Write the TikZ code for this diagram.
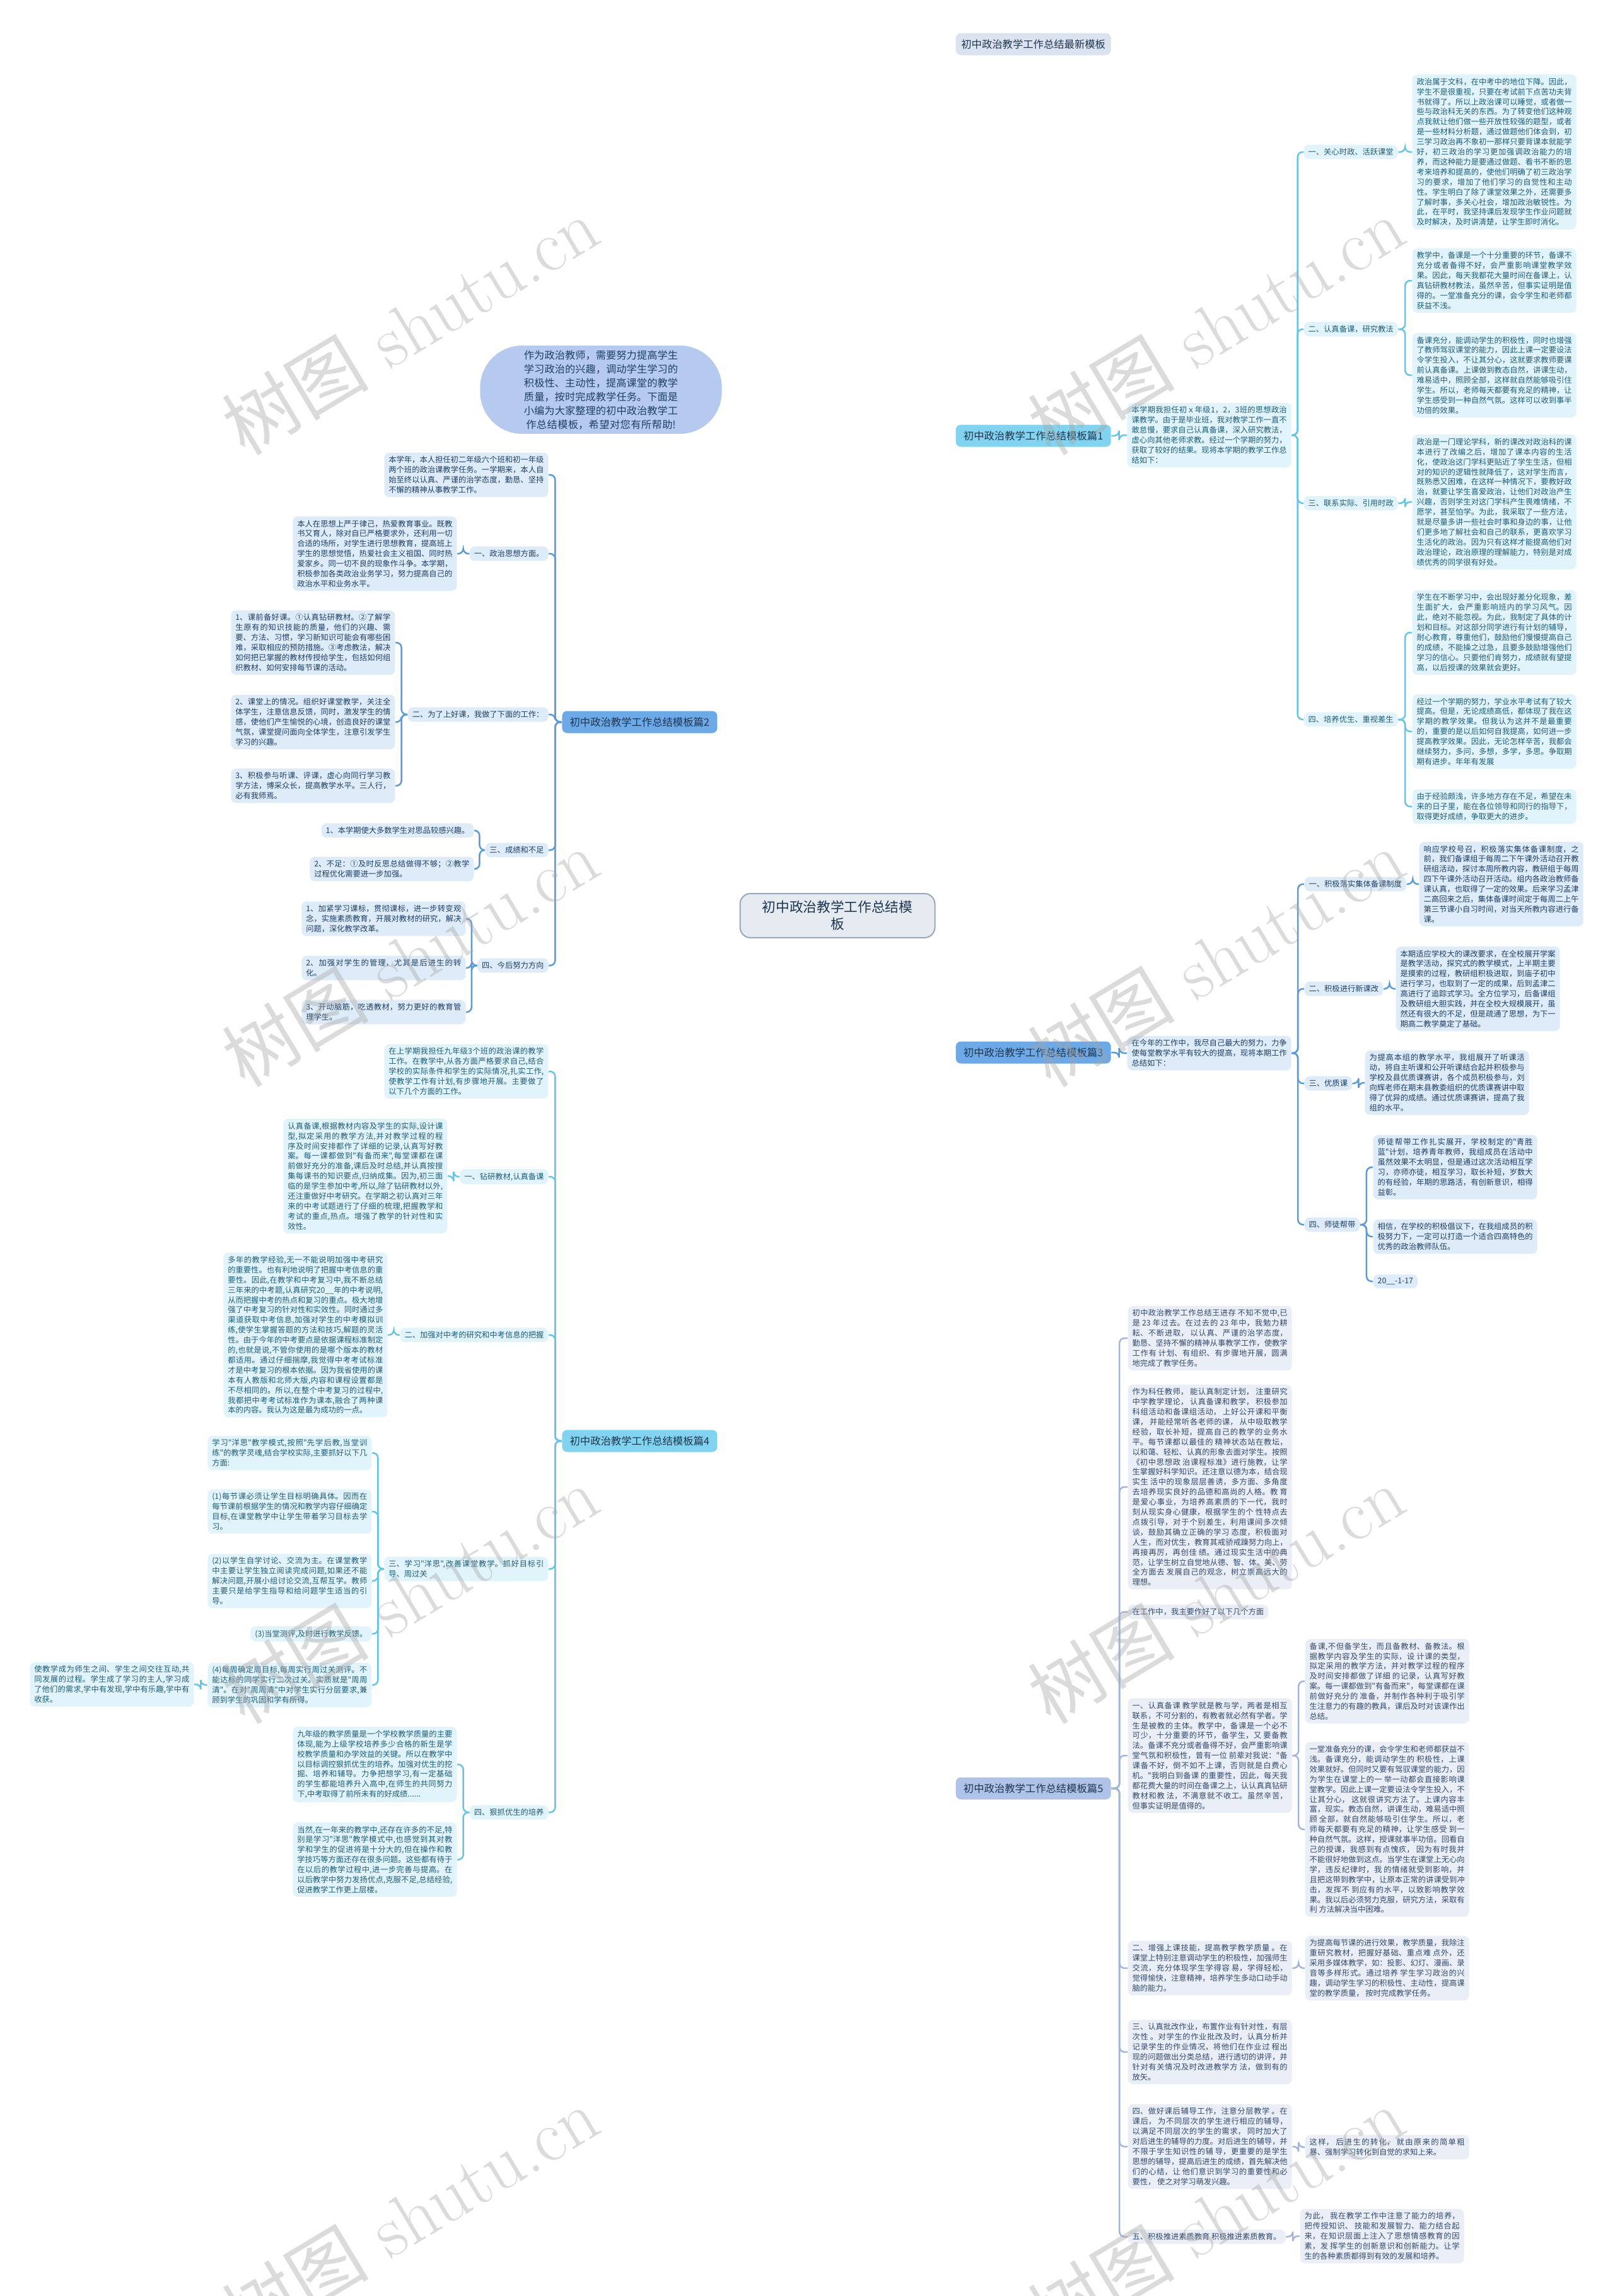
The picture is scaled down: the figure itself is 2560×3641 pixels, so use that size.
\documentclass[tikz,border=0pt]{standalone}
\usepackage{fontspec}
\newfontfamily\cjk{Noto Sans CJK SC}
\usetikzlibrary{calc}
\XeTeXlinebreaklocale "zh"
\XeTeXlinebreakskip = 0pt plus 1pt
\definecolor{tinta}{HTML}{1E3550}
\definecolor{ciano}{HTML}{82D3EF}
\definecolor{cianolinha}{HTML}{66C4E4}
\definecolor{cianoclaro}{HTML}{E1F4FB}
\definecolor{cianotexto}{HTML}{1F5C78}
\definecolor{azul}{HTML}{6CA9E6}
\definecolor{azullinha}{HTML}{5A9AD6}
\definecolor{azulclaro}{HTML}{DEEBF8}
\definecolor{azultexto}{HTML}{1E3F66}
\definecolor{lilas}{HTML}{AFC3E8}
\definecolor{lilaslinha}{HTML}{A3B6DA}
\definecolor{lilasclaro}{HTML}{E9EEF7}
\definecolor{lilastexto}{HTML}{34496B}
\definecolor{cinzaazul}{HTML}{DCE3F0}
\definecolor{cinzalinha}{HTML}{B4C2DC}
\definecolor{bolha}{HTML}{B5CAEE}
\definecolor{bolhalinha}{HTML}{A8BDE6}
\definecolor{centro}{HTML}{E6EBF1}
\definecolor{centroborda}{HTML}{9AA8BA}
\pgfdeclarelayer{fundo}
\pgfsetlayers{fundo,main}

\begin{document}
\begin{tikzpicture}[x=0.3pt, y=-0.3pt,
  caixa/.style={rounded corners=2.4pt, inner xsep=2.1pt, inner ysep=1.7pt,
    font=\cjk\fontsize{3.68}{4.77}\selectfont},
  texto/.style={caixa, text width=73.8pt, align=justify},
  fc/.style={fill=cianoclaro, text=cianotexto},
  fa/.style={fill=azulclaro, text=azultexto},
  fl/.style={fill=lilasclaro, text=lilastexto},
  ramo/.style={rounded corners=2.4pt, minimum width=73.8pt, minimum height=10.5pt,
    inner sep=1pt, text=tinta, font=\cjk\fontsize{4.9}{5.6}\selectfont},
  liga/.style={line width=0.75pt, rounded corners=2.4pt,
    to path={let \p1=(\tikztostart), \p2=(\tikztotarget) in
      -- ({(\x1+\x2)/2},\y1) |- (\tikztotarget)}},
  tronco/.style={line width=0.9pt},
  marca/.style={text=black!35, opacity=0.4, rotate=31, font=\fontsize{35}{35}\selectfont}]

\fill[white] (0,0) rectangle (2560,3641);
\useasboundingbox (0,0) rectangle (2560,3641);

% ================= centro e apresentacao =================
\node[fill=centro, draw=centroborda, line width=0.6pt, rounded corners=5pt,
  minimum width=92.7pt, minimum height=21pt, align=center,
  text=tinta, font=\cjk\fontsize{6.5}{8.2}\selectfont] (ctr) at (1328,1452)
  {初中政治教学工作总结模\\板};
\node[fill=bolha, rounded corners=20pt, minimum width=115pt, minimum height=42pt,
  inner sep=0pt, text width=74pt, align=center, text=azultexto,
  font=\cjk\fontsize{4.85}{6.6}\selectfont] (bolha) at (953,618)
  {作为政治教师，需要努力提高学生学习政治的兴趣，调动学生学习的积极性、主动性，提高课堂的教学质量，按时完成教学任务。下面是小编为大家整理的初中政治教学工作总结模板，希望对您有所帮助!};

% ================= ramos =================
\node[ramo, fill=cinzaazul, anchor=west] (b0) at (1515,70) {初中政治教学工作总结最新模板};
\node[ramo, fill=ciano, anchor=west] (b1) at (1515,691) {初中政治教学工作总结模板篇1};
\node[ramo, fill=azul, anchor=east] (b2) at (1138,1145) {初中政治教学工作总结模板篇2};
\node[ramo, fill=azul, anchor=west] (b3) at (1515,1669) {初中政治教学工作总结模板篇3};
\node[ramo, fill=ciano, anchor=east] (b4) at (1138,2285) {初中政治教学工作总结模板篇4};
\node[ramo, fill=lilas, anchor=west] (b5) at (1515,2836) {初中政治教学工作总结模板篇5};

% =================篇1 =================
\node[texto, fc, anchor=west] (p1i) at (1787,690) {本学期我担任初ｘ年级1，2，3班的思想政治课教学。由于是毕业班，我对教学工作一直不敢怠慢，要求自己认真备课，深入研究教法，虚心向其他老师求教。经过一个学期的努力，获取了较好的结果。现将本学期的教学工作总结如下：};
\node[caixa, fc, anchor=west] (p1a) at (2067,241) {一、关心时政、活跃课堂};
\node[caixa, fc, anchor=west] (p1b) at (2067,522) {二、认真备课，研究教法};
\node[caixa, fc, anchor=west] (p1c) at (2067,798) {三、联系实际、引用时政};
\node[caixa, fc, anchor=west] (p1d) at (2067,1141) {四、培养优生、重视差生};
\node[texto, fc, anchor=west] (p1a1) at (2239,241) {政治属于文科，在中考中的地位下降。因此，学生不是很重视，只要在考试前下点苦功夫背书就得了。所以上政治课可以睡觉，或者做一些与政治科无关的东西。为了转变他们这种观点我就让他们做一些开放性较强的题型，或者是一些材料分析题，通过做题他们体会到，初三学习政治再不象初一那样只要背课本就能学好，初三政治的学习更加强调政治能力的培养，而这种能力是要通过做题、看书不断的思考来培养和提高的，使他们明确了初三政治学习的要求，增加了他们学习的自觉性和主动性。学生明白了除了课堂效果之外，还需要多了解时事，多关心社会，增加政治敏锐性。为此，在平时，我坚持课后发现学生作业问题就及时解决，及时讲清楚，让学生即时消化。};
\node[texto, fc, anchor=west] (p1b1) at (2239,445) {教学中，备课是一个十分重要的环节，备课不充分或者备得不好，会严重影响课堂教学效果。因此，每天我都花大量时间在备课上，认真钻研教材教法，虽然辛苦，但事实证明是值得的。一堂准备充分的课，会令学生和老师都获益不浅。};
\node[texto, fc, anchor=west] (p1b2) at (2239,595) {备课充分，能调动学生的积极性，同时也增强了教师驾驭课堂的能力，因此上课一定要设法令学生投入，不让其分心，这就要求教师要课前认真备课。上课做到教态自然，讲课生动，难易适中，照顾全部，这样就自然能够吸引住学生。所以，老师每天都要有充足的精神，让学生感受到一种自然气氛。这样可以收到事半功倍的效果。};
\node[texto, fc, anchor=west] (p1c1) at (2239,796) {政治是一门理论学科，新的课改对政治科的课本进行了改编之后，增加了课本内容的生活化，使政治这门学科更贴近了学生生活，但相对的知识的逻辑性就降低了，这对学生而言，既熟悉又困难，在这样一种情况下，要教好政治，就要让学生喜爱政治，让他们对政治产生兴趣，否则学生对这门学科产生畏难情绪，不愿学，甚至怕学。为此，我采取了一些方法，就是尽量多讲一些社会时事和身边的事，让他们更多地了解社会和自己的联系，更喜欢学习生活化的政治。因为只有这样才能提高他们对政治理论，政治原理的理解能力，特别是对成绩优秀的同学很有好处。};
\node[texto, fc, anchor=west] (p1d1) at (2239,1003) {学生在不断学习中，会出现好差分化现象，差生面扩大，会严重影响班内的学习风气。因此，绝对不能忽视。为此，我制定了具体的计划和目标。对这部分同学进行有计划的辅导，耐心教育，尊重他们，鼓励他们慢慢提高自己的成绩，不能操之过急，且要多鼓励增强他们学习的信心。只要他们肯努力，成绩就有望提高，以后授课的效果就会更好。};
\node[texto, fc, anchor=west] (p1d2) at (2239,1160) {经过一个学期的努力，学业水平考试有了较大提高。但是，无论成绩高低，都体现了我在这学期的教学效果。但我认为这并不是最重要的，重要的是以后如何自我提高，如何进一步提高教学效果。因此，无论怎样辛苦，我都会继续努力，多问，多想，多学，多思。争取期期有进步。年年有发展};
\node[texto, fc, anchor=west] (p1d3) at (2239,1279) {由于经验颇浅，许多地方存在不足，希望在未来的日子里，能在各位领导和同行的指导下，取得更好成绩，争取更大的进步。};

% ================= 篇2 =================
\node[texto, fa, anchor=east] (p2i) at (870,753) {本学年，本人担任初二年级六个班和初一年级两个班的政治课教学任务。一学期来，本人自始至终以认真、严谨的治学态度，勤恳、坚持不懈的精神从事教学工作。};
\node[caixa, fa, anchor=east] (p2a) at (870,878) {一、政治思想方面。};
\node[caixa, fa, anchor=east] (p2b) at (870,1133) {二、为了上好课，我做了下面的工作：};
\node[caixa, fa, anchor=east] (p2c) at (870,1348) {三、成绩和不足};
\node[caixa, fa, anchor=east] (p2d) at (870,1531) {四、今后努力方向};
\node[texto, fa, anchor=east] (p2a1) at (725,878) {本人在思想上严于律己，热爱教育事业。既教书又育人，除对自已严格要求外，还利用一切合适的场所，对学生进行思想教育，提高班上学生的思想觉悟，热爱社会主义祖国、同时热爱家乡。同一切不良的现象作斗争。本学期，积极参加各类政治业务学习，努力提高自己的政治水平和业务水平。};
\node[texto, fa, anchor=east] (p2b1) at (627,1019) {1、课前备好课。①认真钻研教材。②了解学生原有的知识技能的质量，他们的兴趣、需要、方法、习惯，学习新知识可能会有哪些困难，采取相应的预防措施。③考虑教法，解决如何把已掌握的教材传授给学生，包括如何组织教材、如何安排每节课的活动。};
\node[texto, fa, anchor=east] (p2b2) at (627,1145) {2、课堂上的情况。组织好课堂教学，关注全体学生，注意信息反馈，同时，激发学生的情感，使他们产生愉悦的心境，创造良好的课堂气氛，课堂提问面向全体学生，注意引发学生学习的兴趣。};
\node[texto, fa, anchor=east] (p2b3) at (627,1246) {3、积极参与听课、评课，虚心向同行学习教学方法，博采众长，提高教学水平。三人行，必有我师焉。};
\node[caixa, fa, anchor=east] (p2c1) at (752,1317) {1、本学期使大多数学生对思品较感兴趣。};
\node[texto, fa, anchor=east] (p2c2) at (752,1378) {2、不足：①及时反思总结做得不够；②教学过程优化需要进一步加强。};
\node[texto, fa, anchor=east] (p2d1) at (739,1457) {1、加紧学习课标，贯彻课标，进一步转变观念，实施素质教育，开展对教材的研究，解决问题，深化教学改革。};
\node[texto, fa, anchor=east] (p2d2) at (739,1535) {2、加强对学生的管理，尤其是后进生的转化。};
\node[texto, fa, anchor=east] (p2d3) at (739,1605) {3、开动脑筋，吃透教材，努力更好的教育管理学生。};

% ================= 篇3 =================
\node[texto, fa, anchor=west] (p3i) at (1787,1670) {在今年的工作中，我尽自己最大的努力，力争使每堂教学水平有较大的提高，现将本期工作总结如下：};
\node[caixa, fa, anchor=west] (p3a) at (2068,1402) {一、积极落实集体备课制度};
\node[caixa, fa, anchor=west] (p3b) at (2068,1568) {二、积极进行新课改};
\node[caixa, fa, anchor=west] (p3c) at (2068,1718) {三、优质课};
\node[caixa, fa, anchor=west] (p3d) at (2068,1942) {四、师徒帮带};
\node[texto, fa, anchor=west] (p3a1) at (2250,1402) {响应学校号召，积极落实集体备课制度，之前，我们备课组于每周二下午课外活动召开教研组活动，探讨本周所教内容，教研组于每周四下午课外活动召开活动。组内各政治教师备课认真，也取得了一定的效果。后来学习孟津二高回来之后，集体备课时间定于每周二上午第三节课小自习时间，对当天所教内容进行备课。};
\node[texto, fa, anchor=west] (p3b1) at (2213,1568) {本期适应学校大的课改要求，在全校展开学案是教学活动，探究式的教学模式，上半期主要是摸索的过程，教研组积极进取，到庙子初中进行学习，也取到了一定的成果，后到孟津二高进行了追踪式学习。全方位学习，后备课组及教研组大胆实践，并在全校大规模展开，虽然还有很大的不足，但是疏通了思想，为下一期高二教学奠定了基础。};
\node[texto, fa, anchor=west] (p3c1) at (2164,1717) {为提高本组的教学水平，我组展开了听课活动，将自主听课和公开听课结合起并积极参与学校及县优质课赛讲，各个成员积极参与，刘向辉老师在期末县教委组织的优质课赛讲中取得了优异的成绩。通过优质课赛讲，提高了我组的水平。};
\node[texto, fa, anchor=west] (p3d1) at (2177,1851) {师徒帮带工作扎实展开，学校制定的"青胜蓝"计划，培养青年教师，我组成员在活动中虽然效果不太明显，但是通过这次活动相互学习，亦师亦徒，相互学习，取长补短，岁数大的有经验，年期的思路活，有创新意识，相得益彰。};
\node[texto, fa, anchor=west] (p3d2) at (2177,1961) {相信，在学校的积极倡议下，在我组成员的积极努力下，一定可以打造一个适合四高特色的优秀的政治教师队伍。};
\node[caixa, fa, anchor=west] (p3d3) at (2177,2032) {20\_\_-1-17};

% ================= 篇4 =================
\node[texto, fc, anchor=east] (p4i) at (870,1699) {在上学期我担任九年级3个班的政治课的教学工作。在教学中,从各方面严格要求自己,结合学校的实际条件和学生的实际情况,扎实工作,使教学工作有计划,有步骤地开展。主要做了以下几个方面的工作。};
\node[caixa, fc, anchor=east] (p4a) at (870,1866) {一、钻研教材,认真备课};
\node[caixa, fc, anchor=east] (p4b) at (870,2117) {二、加强对中考的研究和中考信息的把握};
\node[texto, fc, anchor=east] (p4c) at (870,2488) {三、学习"洋思",改善课堂教学。抓好目标引导、周过关};
\node[caixa, fc, anchor=east] (p4d) at (870,2874) {四、狠抓优生的培养};
\node[texto, fc, anchor=east] (p4a1) at (710,1865) {认真备课,根据教材内容及学生的实际,设计课型,拟定采用的教学方法,并对教学过程的程序及时间安排都作了详细的记录,认真写好教案。每一课都做到"有备而来",每堂课都在课前做好充分的准备,课后及时总结,并认真按搜集每课书的知识要点,归纳成集。因为,初三面临的是学生参加中考,所以,除了钻研教材以外,还注重做好中考研究。在学期之初认真对三年来的中考试题进行了仔细的梳理,把握教学和考试的重点,热点。增强了教学的针对性和实效性。};
\node[texto, fc, anchor=east] (p4b1) at (615,2117) {多年的教学经验,无一不能说明加强中考研究的重要性。也有利地说明了把握中考信息的重要性。因此,在教学和中考复习中,我不断总结三年来的中考题,认真研究20\_\_年的中考说明,从而把握中考的热点和复习的重点。极大地增强了中考复习的针对性和实效性。同时通过多渠道获取中考信息,加强对学生的中考模拟训练,使学生掌握答题的方法和技巧,解题的灵活性。由于今年的中考要点是依据课程标准制定的,也就是说,不管你使用的是哪个版本的教材都适用。通过仔细揣摩,我觉得中考考试标准才是中考复习的根本依据。因为我省使用的课本有人教版和北师大版,内容和课程设置都是不尽相同的。所以,在整个中考复习的过程中,我都把中考考试标准作为课本,融合了两种课本的内容。我认为这是最为成功的一点。};
\node[texto, fc, anchor=east] (p4c1) at (590,2304) {学习"洋思"教学模式,按照"先学后教,当堂训练"的教学灵魂,结合学校实际,主要抓好以下几方面:};
\node[texto, fc, anchor=east] (p4c2) at (590,2397) {(1)每节课必须让学生目标明确具体。因而在每节课前根据学生的情况和教学内容仔细确定目标,在课堂教学中让学生带着学习目标去学习。};
\node[texto, fc, anchor=east] (p4c3) at (590,2507) {(2)以学生自学讨论、交流为主。在课堂教学中主要让学生独立阅读完成问题,如果还不能解决问题,开展小组讨论交流,互帮互学。教师主要只是给学生指导和给问题学生适当的引导。};
\node[caixa, fc, anchor=east] (p4c4) at (590,2591) {(3)当堂测评,及时进行教学反馈。};
\node[texto, fc, anchor=east] (p4c5) at (590,2672) {(4)每周确定周目标,每周实行周过关测评。不能达标的同学实行二次过关。实质就是"周周清"。在对"周周清"中对学生实行分层要求,兼顾到学生的巩固和学有所得。};
\node[texto, fc, anchor=east] (p4c6) at (308,2671) {使教学成为师生之间、学生之间交往互动,共同发展的过程。学生成了学习的主人,学习成了他们的需求,学中有发现,学中有乐趣,学中有收获。};
\node[texto, fc, anchor=east] (p4d1) at (725,2798) {九年级的教学质量是一个学校教学质量的主要体现,能为上级学校培养多少合格的新生是学校教学质量和办学效益的关键。所以在教学中以目标调控狠抓优生的培养。加强对优生的挖掘、培养和辅导。力争把想学习,有一定基础的学生都能培养升入高中,在师生的共同努力下,中考取得了前所未有的好成绩......};
\node[texto, fc, anchor=east] (p4d2) at (725,2949) {当然,在一年来的教学中,还存在许多的不足,特别是学习"洋思"教学模式中,也感觉到其对教学和学生的促进将是十分大的,但在操作和教学技巧等方面还存在很多问题。这些都有待于在以后的教学过程中,进一步完善与提高。在以后教学中努力发扬优点,克服不足,总结经验,促进教学工作更上层楼。};

% ================= 篇5 =================
\node[texto, fl, anchor=west] (p5a) at (1788,2122) {初中政治教学工作总结王进存 不知不觉中,已是 23 年过去。在过去的 23 年中，我勉力耕耘、不断进取， 以认真、严谨的治学态度，勤恳、坚持不懈的精神从事教学工作，使教学工作有 计划、有组织、有步骤地开展，圆满地完成了教学任务。};
\node[texto, fl, anchor=west] (p5b) at (1788,2358) {作为科任教师， 能认真制定计划， 注重研究中学教学理论， 认真备课和教学， 积极参加科组活动和备课组活动， 上好公开课和平衡课， 并能经常听各老师的课， 从中吸取教学经验，取长补短，提高自己的教学的业务水平。每节课都以最佳的 精神状态站在教坛，以和蔼、轻松、认真的形象去面对学生。按照《初中思想政 治课程标准》进行施教，让学生掌握好科学知识。还注意以德为本，结合现实生 活中的现象层层善诱，多方面、多角度去培养现实良好的品德和高尚的人格。教 育是爱心事业，为培养高素质的下一代，我时刻从现实身心健康，根据学生的个 性特点去点拨引导，对于个别差生，利用课间多次倾谈，鼓励其确立正确的学习 态度，积极面对人生，而对优生，教育其戒骄戒躁努力向上，再接再厉，再创佳 绩。通过现实生活中的典范，让学生树立自觉地从德、智、体、美、劳全方面去 发展自己的观念，树立崇高远大的理想。};
\node[caixa, fl, anchor=west] (p5c) at (1788,2556) {在工作中，我主要作好了以下几个方面};
\node[texto, fl, anchor=west] (p5d) at (1788,2784) {一、认真备课 教学就是教与学，两者是相互联系，不可分割的，有教者就必然有学者。学 生是被教的主体。教学中，备课是一个必不可少，十分重要的环节，备学生，又 要备教法。备课不充分或者备得不好，会严重影响课堂气氛和积极性，曾有一位 前辈对我说："备课备不好，倒不如不上课，否则就是白费心机。"我明白到备课 的重要性，因此，每天我都花费大量的时间在备课之上，认认真真钻研教材和教 法，不满意就不收工。虽然辛苦，但事实证明是值得的。};
\node[texto, fl, anchor=west] (p5e) at (1788,3121) {二、增强上课技能，提高教学教学质量 。在课堂上特别注意调动学生的积极性，加强师生交流，充分体现学生学得容 易，学得轻松，觉得愉快，注意精神，培养学生多动口动手动脑的能力。};
\node[texto, fl, anchor=west] (p5f) at (1788,3254) {三、认真批改作业，布置作业有针对性，有层次性 。对学生的作业批改及时，认真分析并记录学生的作业情况，将他们在作业过 程出现的问题做出分类总结，进行透切的讲评，并针对有关情况及时改进教学方 法，做到有的放矢。};
\node[texto, fl, anchor=west] (p5g) at (1788,3404) {四、做好课后辅导工作，注意分层教学 。在课后， 为不同层次的学生进行相应的辅导，以满足不同层次的学生的需求， 同时加大了对后进生的辅导的力度。对后进生的辅导，并不限于学生知识性的辅 导，更重要的是学生思想的辅导，提高后进生的成绩，首先解决他们的心结，让 他们意识到学习的重要性和必要性， 使之对学习萌发兴趣。};
\node[caixa, fl, anchor=west] (p5h) at (1788,3547) {五、积极推进素质教育 积极推进素质教育。};
\node[texto, fl, anchor=west] (p5d1) at (2069,2666) {备课,不但备学生，而且备教材、备教法。根据教学内容及学生的实际，设 计课的类型，拟定采用的教学方法，并对教学过程的程序及时间安排都做了详细 的记录，认真写好教案。每一课都做到"有备而来"，每堂课都在课前做好充分的 准备，并制作各种利于吸引学生注意力的有趣的教具，课后及时对该课作出总结。};
\node[texto, fl, anchor=west] (p5d2) at (2069,2901) {一堂准备充分的课，会令学生和老师都获益不浅。备课充分，能调动学生的 积极性，上课效果就好。但同时又要有驾驭课堂的能力，因为学生在课堂上的一 举一动都会直接影响课堂教学。因此上课一定要设法令学生投入，不让其分心， 这就很讲究方法了。上课内容丰富，现实。教态自然，讲课生动，难易适中照顾 全部，就自然能够吸引住学生。所以，老师每天都要有充足的精神，让学生感受 到一种自然气氛。这样，授课就事半功倍。回看自己的授课，我感到有点愧疚， 因为有时我并不能很好地做到这点。当学生在课堂上无心向学，违反纪律时，我 的情绪就受到影响，并且把这带到教学中，让原本正常的讲课受到冲击，发挥不 到应有的水平，以致影响教学效果。我以后必须努力克服，研究方法，采取有利 方法解决当中困难。};
\node[texto, fl, anchor=west] (p5e1) at (2069,3121) {为提高每节课的进行效果，教学质量，我除注重研究教材，把握好基础、重点难 点外，还采用多媒体教学，如：投影、幻灯、漫画、录音等多样形式。通过培养 学生学习政治的兴趣，调动学生学习的积极性、主动性，提高课堂的教学质量， 按时完成教学任务。};
\node[texto, fl, anchor=west] (p5g1) at (2069,3405) {这样， 后进生的转化， 就由原来的简单粗暴、强制学习转化到自觉的求知上来。};
\node[texto, fl, anchor=west] (p5h1) at (2061,3546) {为此， 我在教学工作中注意了能力的培养，把传授知识、 技能和发展智力、能力结合起来，在知识层面上注入了思想情感教育的因素，发 挥学生的创新意识和创新能力。让学生的各种素质都得到有效的发展和培养。};

% ================= ligacoes =================
\begin{pgfonlayer}{fundo}
  \draw[tronco, draw=cinzalinha] (ctr.center) .. controls (1420,1452) and (1420,70) .. (b0.west);
  \draw[tronco, draw=cianolinha] (ctr.center) .. controls (1420,1452) and (1420,691) .. (b1.west);
  \draw[tronco, draw=azullinha] (ctr.center) .. controls (1420,1452) and (1420,1669) .. (b3.west);
  \draw[tronco, draw=lilaslinha] (ctr.center) .. controls (1420,1452) and (1420,2836) .. (b5.west);
  \draw[tronco, draw=azullinha] (ctr.center) .. controls (1236,1452) and (1236,1145) .. (b2.east);
  \draw[tronco, draw=cianolinha] (ctr.center) .. controls (1236,1452) and (1236,2285) .. (b4.east);
  \draw[tronco, draw=bolhalinha] (ctr.center) .. controls (1236,1452) and (1236,618) .. (bolha.east);
\end{pgfonlayer}

\draw[liga, cianolinha] (b1.east) to (p1i.west);
\foreach \f in {p1a,p1b,p1c,p1d} \draw[liga, cianolinha] (p1i.east) to (\f.west);
\draw[liga, cianolinha] (p1a.east) to (p1a1.west);
\draw[liga, cianolinha] (p1c.east) to (p1c1.west);
\foreach \f in {p1b1,p1b2} \draw[liga, cianolinha] (p1b.east) to (\f.west);
\foreach \f in {p1d1,p1d2,p1d3} \draw[liga, cianolinha] (p1d.east) to (\f.west);

\foreach \f in {p2i,p2a,p2b,p2c,p2d} \draw[liga, azullinha] (b2.west) to (\f.east);
\draw[liga, azullinha] (p2a.west) to (p2a1.east);
\foreach \f in {p2b1,p2b2,p2b3} \draw[liga, azullinha] (p2b.west) to (\f.east);
\foreach \f in {p2c1,p2c2} \draw[liga, azullinha] (p2c.west) to (\f.east);
\foreach \f in {p2d1,p2d2,p2d3} \draw[liga, azullinha] (p2d.west) to (\f.east);

\draw[liga, azullinha] (b3.east) to (p3i.west);
\foreach \f in {p3a,p3b,p3c,p3d} \draw[liga, azullinha] (p3i.east) to (\f.west);
\draw[liga, azullinha] (p3a.east) to (p3a1.west);
\draw[liga, azullinha] (p3b.east) to (p3b1.west);
\draw[liga, azullinha] (p3c.east) to (p3c1.west);
\foreach \f in {p3d1,p3d2,p3d3} \draw[liga, azullinha] (p3d.east) to (\f.west);

\foreach \f in {p4i,p4a,p4b,p4c,p4d} \draw[liga, cianolinha] (b4.west) to (\f.east);
\draw[liga, cianolinha] (p4a.west) to (p4a1.east);
\draw[liga, cianolinha] (p4b.west) to (p4b1.east);
\foreach \f in {p4c1,p4c2,p4c3,p4c4,p4c5} \draw[liga, cianolinha] (p4c.west) to (\f.east);
\draw[liga, cianolinha] (p4c5.west) to (p4c6.east);
\foreach \f in {p4d1,p4d2} \draw[liga, cianolinha] (p4d.west) to (\f.east);

\foreach \f in {p5a,p5b,p5c,p5d,p5e,p5f,p5g,p5h} \draw[liga, lilaslinha] (b5.east) to (\f.west);
\foreach \f in {p5d1,p5d2} \draw[liga, lilaslinha] (p5d.east) to (\f.west);
\draw[liga, lilaslinha] (p5e.east) to (p5e1.west);
\draw[liga, lilaslinha] (p5g.east) to (p5g1.west);
\draw[liga, lilaslinha] (p5h.east) to (p5h1.west);

% marca d'agua
\foreach \mx in {650,1928}
  \foreach \my in {516,1518,2528,3513}
    \node[marca] at (\mx,\my) {{\cjk 树图} shutu.cn};

\end{tikzpicture}
\end{document}
